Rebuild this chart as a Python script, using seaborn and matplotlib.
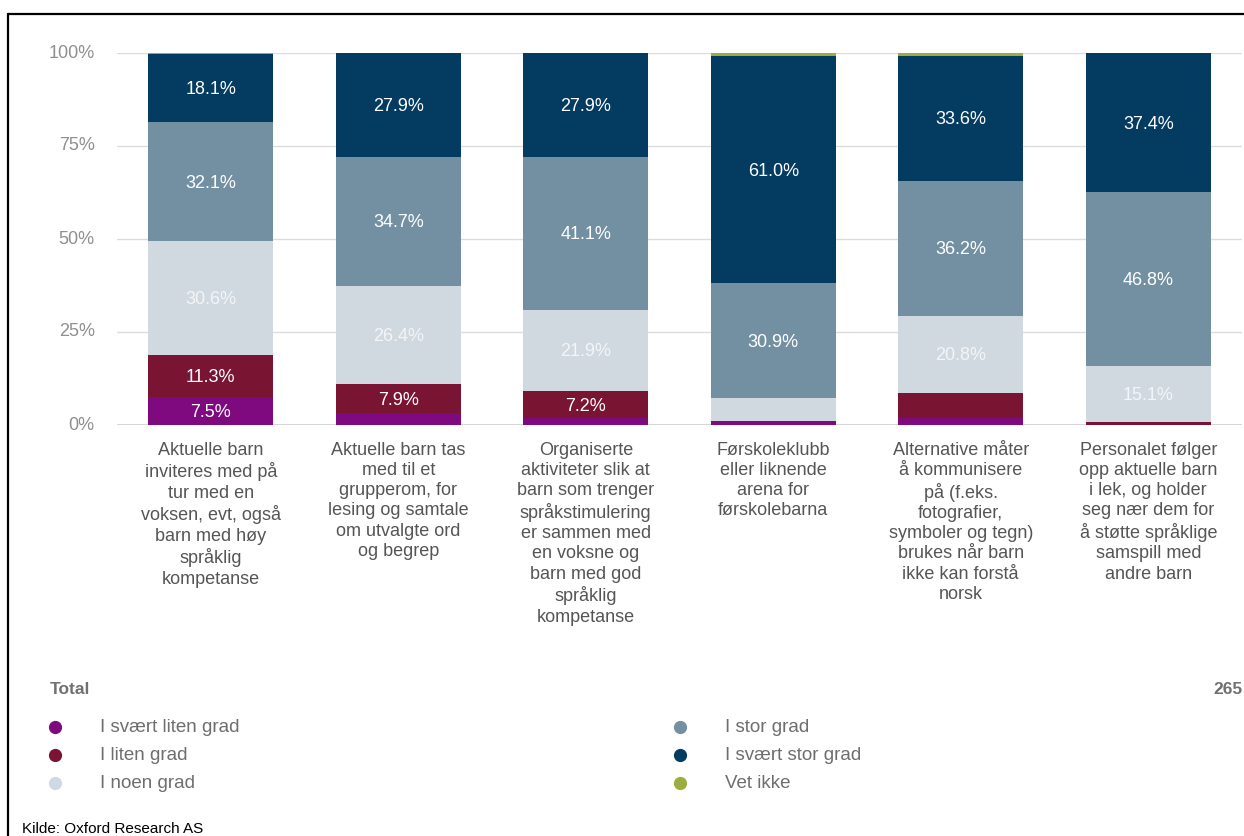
import matplotlib
matplotlib.use("Agg")
import matplotlib.pyplot as plt
from matplotlib.lines import Line2D
import numpy as np
import seaborn as sns

# ---- data ----
categories = ["Tur", "Grupperom", "Organiserte", "Førskoleklubb", "Alternative", "Personalet"]
tick_labels = [
    "Aktuelle barn\ninviteres med på\ntur med en\nvoksen, evt, også\nbarn med høy\nspråklig\nkompetanse",
    "Aktuelle barn tas\nmed til et\ngrupperom, for\nlesing og samtale\nom utvalgte ord\nog begrep",
    "Organiserte\naktiviteter slik at\nbarn som trenger\nspråkstimulering\ner sammen med\nen voksne og\nbarn med god\nspråklig\nkompetanse",
    "Førskoleklubb\neller liknende\narena for\nførskolebarna",
    "Alternative måter\nå kommunisere\npå (f.eks.\nfotografier,\nsymboler og tegn)\nbrukes når barn\nikke kan forstå\nnorsk",
    "Personalet følger\nopp aktuelle barn\ni lek, og holder\nseg nær dem for\nå støtte språklige\nsamspill med\nandre barn",
]
series_names = ["I svært liten grad", "I liten grad", "I noen grad", "I stor grad", "I svært stor grad", "Vet ikke"]
svaert_liten = [7.5, 3.1, 1.9, 1.1, 2.0, 0.0]
liten = [11.3, 7.9, 7.2, 0.0, 6.6, 0.7]
noen = [30.6, 26.4, 21.9, 6.1, 20.8, 15.1]
stor = [32.1, 34.7, 41.1, 30.9, 36.2, 46.8]
svaert_stor = [18.1, 27.9, 27.9, 61.0, 33.6, 37.4]
vet_ikke = [0.4, 0.0, 0.0, 0.9, 0.8, 0.0]
y_ticks = [0, 25, 50, 75, 100]
y_tick_labels = ["0%", "25%", "50%", "75%", "100%"]
total_label = "Total"
total_n = "265"
source = "Kilde: Oxford Research AS"

colors = ["#7f0a80", "#7a1433", "#d0d9e0", "#7290a2", "#033b61", "#9aad3e"]
label_colors = ["white", "white", "#f3f5f7", "white", "white", "white"]

series = [svaert_liten, liten, noen, stor, svaert_stor, vet_ikke]

sns.set_theme(style="white")
plt.rcParams["font.family"] = ["Liberation Sans", "DejaVu Sans"]

fig = plt.figure(figsize=(12.44, 8.36), dpi=100)
ax = fig.add_axes([117 / 1244, 1 - 425 / 836, (1242 - 117) / 1244, (425 - 53) / 836])

vals = np.array(series)
cum = np.cumsum(vals, axis=0)

# stacked bars: draw cumulative totals from top down
for i in range(len(series) - 1, -1, -1):
    sns.barplot(x=categories, y=cum[i], color=colors[i], saturation=1,
                width=0.667, ax=ax, linewidth=0, zorder=2)

# labels
for i in range(len(series)):
    for j in range(len(categories)):
        v = vals[i, j]
        if v >= 7.0:
            yc = cum[i, j] - v / 2
            ax.text(j, yc - 0.4, f"{v:.1f}%", ha="center", va="center",
                    fontsize=13, color=label_colors[i], zorder=5)

ax.set_xlim(-0.5, len(categories) - 0.5)
ax.set_ylim(0, 100)
ax.set_yticks(y_ticks)
ax.set_yticklabels(y_tick_labels, fontsize=13, color="#8f8f8f")
ax.set_xticks(range(len(categories)))
ax.set_xticklabels(tick_labels, fontsize=13, color="#555555", linespacing=1.25, va="top")
ax.tick_params(axis="x", length=0, pad=12)
ax.tick_params(axis="y", length=0, pad=16)
for t in ax.get_yticklabels():
    t.set_verticalalignment("center")
ax.set_xlabel("")
ax.set_ylabel("")
for s in ax.spines.values():
    s.set_visible(False)
ax.yaxis.grid(True, color="#dcdcdc", linewidth=1, zorder=0)
ax.set_axisbelow(True)
ax.axhline(0, color="#d0d0d0", linewidth=1.2, zorder=1)

# legend / footer
W, H = 1244, 836
def fx(px):
    return px / W
def fy(py):
    return 1 - py / H

fig.text(fx(50), fy(690), total_label, fontsize=12.5, fontweight="bold", color="#707070", va="center")
fig.text(fx(1243), fy(690), total_n, fontsize=12.5, fontweight="bold", color="#707070", va="center", ha="right")

col_x = [55, 680]
row_y = [727, 755, 783]
for k, name in enumerate(series_names):
    c = k // 3
    r = k % 3
    fig.add_artist(Line2D([fx(col_x[c])], [fy(row_y[r])], marker="o", markersize=8.5,
                          color=colors[k], linestyle="none", transform=fig.transFigure))
    fig.text(fx(col_x[c] + 45), fy(row_y[r]), name, fontsize=13.5, color="#6e6e6e", va="center")

fig.text(fx(22), fy(829), source, fontsize=11, color="black", va="center")

# frame lines
fig.add_artist(Line2D([fx(8), fx(1244)], [fy(14), fy(14)], color="black", linewidth=1.6, transform=fig.transFigure))
fig.add_artist(Line2D([fx(8), fx(8)], [fy(14), fy(836)], color="black", linewidth=1.6, transform=fig.transFigure))

fig.savefig("out.png", dpi=100)
